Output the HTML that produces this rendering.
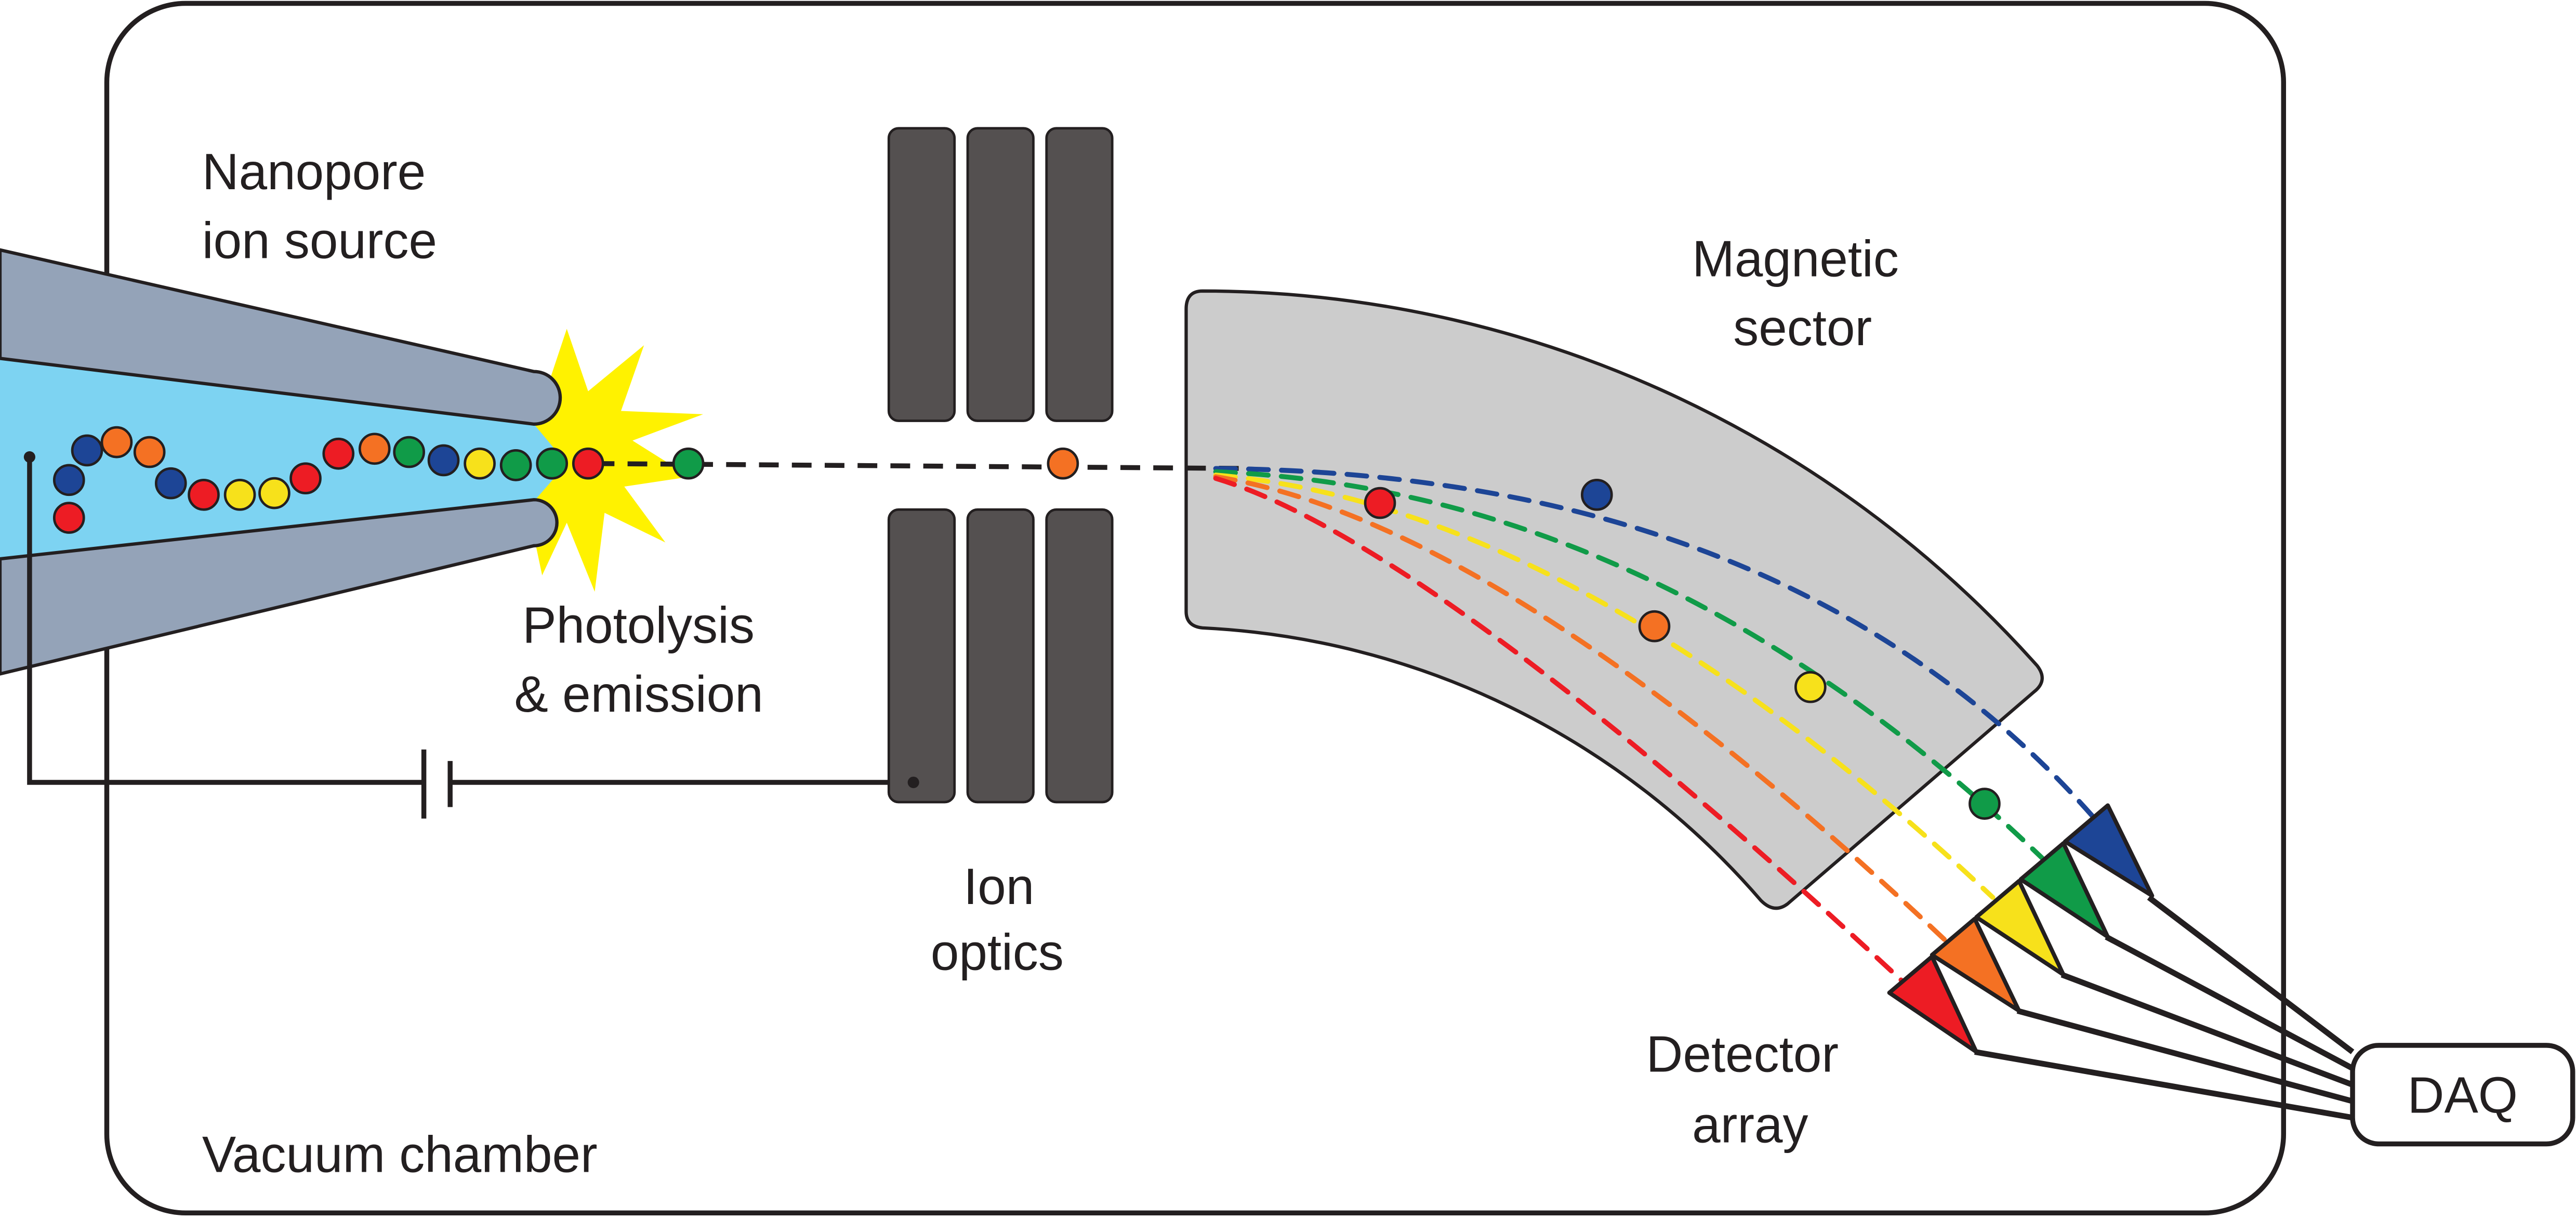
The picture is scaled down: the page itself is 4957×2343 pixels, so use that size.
<!DOCTYPE html>
<html><head><meta charset="utf-8"><style>
html,body{margin:0;padding:0;background:#fff;}
svg{display:block;}
text{font-family:"Liberation Sans",Arial,sans-serif;font-size:31px;fill:#231f20;}
</style></head><body>
<svg width="4957" height="2343" viewBox="0 0 1568 741" xmlns="http://www.w3.org/2000/svg">
<rect x="65" y="2" width="1325" height="736" rx="48" fill="#fff" stroke="#231f20" stroke-width="3"/>

<polygon fill="#fff200" points="345,200 358,238 392,210 378,250 428,252 385,268 420,290 380,296 405,330 368,312 362,360 345,318 330,350 322,312 300,325 316,290 290,282 318,268 300,240 330,245"/>

<g stroke="#231f20" stroke-width="2">
<polygon fill="#7dd3f2" points="0,218 325,258 345,282 325,305 0,340" stroke="none"/>
<path d="M0,152 L325,226 A16,16 0 0 1 325,258 L0,218 Z" fill="#94a3b8"/>
<path d="M0,340 L325,304 A14,14 0 0 1 325,332 L0,410 Z" fill="#94a3b8"/>
</g>

<g stroke="#231f20" stroke-width="3" fill="none">
<polyline points="18,278 18,476 258,476"/>
<line x1="258" y1="456" x2="258" y2="498"/>
<line x1="274" y1="463" x2="274" y2="491"/>
<line x1="274" y1="476" x2="556" y2="476"/>
</g>

<g fill="#545050" stroke="#231f20" stroke-width="1.5">
<rect x="541" y="78" width="40" height="178" rx="6"/><rect x="589" y="78" width="40" height="178" rx="6"/><rect x="637" y="78" width="40" height="178" rx="6"/>
<rect x="541" y="310" width="40" height="178" rx="6"/><rect x="589" y="310" width="40" height="178" rx="6"/><rect x="637" y="310" width="40" height="178" rx="6"/>
</g>
<circle cx="18" cy="278" r="3.5" fill="#231f20"/><circle cx="556" cy="476" r="3.5" fill="#231f20"/>

<path d="M732,177 A682,682 0 0 1 1240,405 Q1247,414 1238,421 L1088,550 Q1080,556 1072,548 A480,480 0 0 0 732,382 Q722,381 722,372 L722,188 Q722,177 732,177 Z" fill="#cccccc" stroke="#231f20" stroke-width="2"/>

<line x1="362" y1="282" x2="760" y2="285" stroke="#231f20" stroke-width="3" stroke-dasharray="12,8"/>
<g fill="none" stroke-width="3" stroke-dasharray="12,8" stroke-linecap="round">
<path d="M740,285 Q1090,288 1275,498" stroke="#1d4596"/>
<path d="M740,287 Q1010,298 1243,522" stroke="#109b48"/>
<path d="M740,289 Q960,308 1213,546" stroke="#f7e11b"/>
<path d="M740,290 Q915,318 1184,572" stroke="#f47123"/>
<path d="M740,291 Q870,330 1158,597" stroke="#ed1c24"/>
</g>

<g stroke="#231f20" stroke-width="2.5" stroke-linejoin="round">
<g stroke-width="3.5"><line x1="1308" y1="546" x2="1432" y2="640"/><line x1="1282" y1="570" x2="1432" y2="650"/><line x1="1255" y1="593" x2="1432" y2="660"/><line x1="1228" y1="615" x2="1432" y2="670"/><line x1="1202" y1="640" x2="1432" y2="680"/></g>
<polygon fill="#1d4596" points="1257,512 1283,490 1310,545"/>
<polygon fill="#109b48" points="1230,535 1256,513 1283,570"/>
<polygon fill="#f7e11b" points="1203,558 1229,536 1256,593"/>
<polygon fill="#f47123" points="1176,581 1202,559 1229,615"/>
<polygon fill="#ed1c24" points="1150,604 1176,582 1203,640"/>
</g>
<rect x="1432" y="636" width="134" height="60" rx="16" fill="#fff" stroke="#231f20" stroke-width="3"/>

<g stroke="#231f20" stroke-width="1.5">
<circle cx="42" cy="315" r="9" fill="#ed1c24"/><circle cx="42" cy="292" r="9" fill="#1d4596"/><circle cx="53" cy="274" r="9" fill="#1d4596"/><circle cx="71" cy="269" r="9" fill="#f47123"/><circle cx="91" cy="275" r="9" fill="#f47123"/><circle cx="104" cy="294" r="9" fill="#1d4596"/><circle cx="124" cy="301" r="9" fill="#ed1c24"/><circle cx="146" cy="301" r="9" fill="#f7e11b"/><circle cx="167" cy="300" r="9" fill="#f7e11b"/><circle cx="186" cy="291" r="9" fill="#ed1c24"/><circle cx="206" cy="276" r="9" fill="#ed1c24"/><circle cx="228" cy="273" r="9" fill="#f47123"/><circle cx="249" cy="275" r="9" fill="#109b48"/><circle cx="270" cy="280" r="9" fill="#1d4596"/><circle cx="292" cy="282" r="9" fill="#f7e11b"/><circle cx="314" cy="283" r="9" fill="#109b48"/><circle cx="336" cy="282" r="9" fill="#109b48"/><circle cx="358" cy="282" r="9" fill="#ed1c24"/>
<circle cx="419" cy="282" r="9" fill="#109b48"/><circle cx="647" cy="282" r="9" fill="#f47123"/>
<circle cx="972" cy="301" r="9" fill="#1d4596"/><circle cx="840" cy="306" r="9" fill="#ed1c24"/><circle cx="1007" cy="381" r="9" fill="#f47123"/><circle cx="1102" cy="418" r="9" fill="#f7e11b"/><circle cx="1208" cy="489" r="9" fill="#109b48"/>
</g>

<text x="123" y="115">Nanopore</text>
<text x="123" y="157">ion source</text>
<text x="1030" y="168">Magnetic</text>
<text x="1055" y="210">sector</text>
<text x="318" y="391">Photolysis</text>
<text x="313" y="433">&amp; emission</text>
<text x="608" y="550" text-anchor="middle">Ion</text>
<text x="607" y="590" text-anchor="middle">optics</text>
<text x="1002" y="652">Detector</text>
<text x="1030" y="695">array</text>
<text x="123" y="713">Vacuum chamber</text>
<text x="1499" y="677" text-anchor="middle">DAQ</text>
</svg>
</body></html>
